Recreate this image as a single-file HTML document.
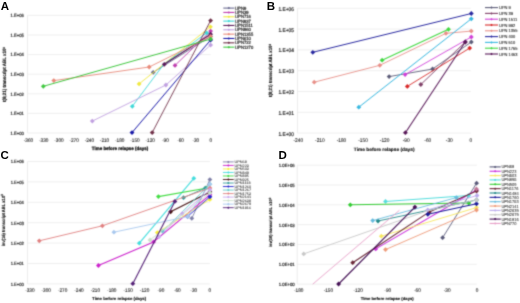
<!DOCTYPE html>
<html><head><meta charset="utf-8"><style>
html,body{margin:0;padding:0;background:#fff;width:520px;height:303px;overflow:hidden}
svg{display:block;will-change:transform}
text{text-rendering:geometricPrecision}
.y{font-family:"Liberation Sans", sans-serif;fill:#222;stroke:#222;stroke-width:0.16px}
.g{font-family:"Liberation Sans", sans-serif;fill:#111;stroke:#111;stroke-width:0.14px}
.h{font-family:"Liberation Sans", sans-serif;fill:#222;stroke:#222;stroke-width:0.03px}
.x{font-family:"Liberation Sans", sans-serif;fill:#222;stroke:#222;stroke-width:0.08px}
.b{font-family:"Liberation Sans", sans-serif;font-weight:bold;fill:#111;stroke:#111;stroke-width:0.12px}
.L{font-family:"Liberation Sans", sans-serif;font-size:11.5px;font-weight:bold;fill:#000}
</style></head><body>
<svg width="520" height="303" viewBox="0 0 520 303">
<defs><filter id="bl" x="0" y="0" width="520" height="303" filterUnits="userSpaceOnUse" primitiveUnits="userSpaceOnUse" color-interpolation-filters="sRGB"><feConvolveMatrix order="3" kernelMatrix="0.02768 0.11101 0.02768 0.11101 0.44521 0.11101 0.02768 0.11101 0.02768" edgeMode="duplicate" preserveAlpha="true"/></filter></defs>
<rect width="520" height="303" fill="#fff"/>
<g filter="url(#bl)">
<rect width="520" height="303" fill="#fff"/>
<line x1="27.5" y1="15.4" x2="210.7" y2="15.4" stroke="#e4e4e4" stroke-width="0.6"/>
<line x1="27.5" y1="35" x2="210.7" y2="35" stroke="#e4e4e4" stroke-width="0.6"/>
<line x1="27.5" y1="54.6" x2="210.7" y2="54.6" stroke="#e4e4e4" stroke-width="0.6"/>
<line x1="27.5" y1="74.2" x2="210.7" y2="74.2" stroke="#e4e4e4" stroke-width="0.6"/>
<line x1="27.5" y1="93.8" x2="210.7" y2="93.8" stroke="#e4e4e4" stroke-width="0.6"/>
<line x1="27.5" y1="113.4" x2="210.7" y2="113.4" stroke="#e4e4e4" stroke-width="0.6"/>
<line x1="27.5" y1="133" x2="210.7" y2="133" stroke="#e4e4e4" stroke-width="0.6"/>
<line x1="27.5" y1="15.4" x2="27.5" y2="133" stroke="#e0e0e0" stroke-width="0.6"/>
<text transform="translate(23.8,17.28) scale(1.0,1.1)" text-anchor="end" class="y" font-size="4.15">1.E+06</text>
<text transform="translate(23.8,36.88) scale(1.0,1.1)" text-anchor="end" class="y" font-size="4.15">1.E+05</text>
<text transform="translate(23.8,56.48) scale(1.0,1.1)" text-anchor="end" class="y" font-size="4.15">1.E+04</text>
<text transform="translate(23.8,76.08) scale(1.0,1.1)" text-anchor="end" class="y" font-size="4.15">1.E+03</text>
<text transform="translate(23.8,95.68) scale(1.0,1.1)" text-anchor="end" class="y" font-size="4.15">1.E+02</text>
<text transform="translate(23.8,115.28) scale(1.0,1.1)" text-anchor="end" class="y" font-size="4.15">1.E+01</text>
<text transform="translate(23.8,134.88) scale(1.0,1.1)" text-anchor="end" class="y" font-size="4.15">1.E+00</text>
<text transform="translate(28.48,141.95) scale(1.0,1.1)" text-anchor="middle" class="x" font-size="4.7">-360</text>
<text transform="translate(43.69,141.95) scale(1.0,1.1)" text-anchor="middle" class="x" font-size="4.7">-330</text>
<text transform="translate(58.9,141.95) scale(1.0,1.1)" text-anchor="middle" class="x" font-size="4.7">-300</text>
<text transform="translate(74.11,141.95) scale(1.0,1.1)" text-anchor="middle" class="x" font-size="4.7">-270</text>
<text transform="translate(89.32,141.95) scale(1.0,1.1)" text-anchor="middle" class="x" font-size="4.7">-240</text>
<text transform="translate(104.53,141.95) scale(1.0,1.1)" text-anchor="middle" class="x" font-size="4.7">-210</text>
<text transform="translate(119.74,141.95) scale(1.0,1.1)" text-anchor="middle" class="x" font-size="4.7">-180</text>
<text transform="translate(134.95,141.95) scale(1.0,1.1)" text-anchor="middle" class="x" font-size="4.7">-150</text>
<text transform="translate(150.16,141.95) scale(1.0,1.1)" text-anchor="middle" class="x" font-size="4.7">-120</text>
<text transform="translate(165.37,141.95) scale(1.0,1.1)" text-anchor="middle" class="x" font-size="4.7">-90</text>
<text transform="translate(180.58,141.95) scale(1.0,1.1)" text-anchor="middle" class="x" font-size="4.7">-60</text>
<text transform="translate(195.79,141.95) scale(1.0,1.1)" text-anchor="middle" class="x" font-size="4.7">-30</text>
<text transform="translate(210.7,141.95) scale(1.0,1.1)" text-anchor="middle" class="x" font-size="4.7">0</text>
<text style="stroke-width:0.24px" transform="translate(120,149.95) scale(1.0,1.05)" text-anchor="middle" class="b" font-size="4.47">Time before relapse (days)</text>
<text transform="translate(6,74.55) rotate(-90) scale(1,1.1)" text-anchor="middle" class="b" font-size="4.42">t(8;21) transcript ABL x10<tspan dy="-1.3" font-size="2.8">3</tspan></text>
<polyline points="153.2,72.3 210.6,36.5" fill="none" stroke="#6a6a90" stroke-width="0.9" stroke-linejoin="round"/>
<rect x="151.5" y="70.6" width="3.4" height="3.4" fill="#6a6a90" transform="rotate(45 153.2 72.3)"/>
<rect x="208.9" y="34.8" width="3.4" height="3.4" fill="#6a6a90" transform="rotate(45 210.6 36.5)"/>
<polyline points="175,65.4 210.6,31.1" fill="none" stroke="#c040b0" stroke-width="0.9" stroke-linejoin="round"/>
<rect x="173.3" y="63.7" width="3.4" height="3.4" fill="#c040b0" transform="rotate(45 175 65.4)"/>
<rect x="208.9" y="29.4" width="3.4" height="3.4" fill="#c040b0" transform="rotate(45 210.6 31.1)"/>
<polyline points="139.1,83.9 210.4,26.8" fill="none" stroke="#f0e840" stroke-width="0.9" stroke-linejoin="round"/>
<rect x="137.4" y="82.2" width="3.4" height="3.4" fill="#f0e840" transform="rotate(45 139.1 83.9)"/>
<rect x="208.7" y="25.1" width="3.4" height="3.4" fill="#f0e840" transform="rotate(45 210.4 26.8)"/>
<polyline points="132.3,106.3 163.5,64.6 206.7,32.9" fill="none" stroke="#40d8d8" stroke-width="0.9" stroke-linejoin="round"/>
<rect x="130.6" y="104.6" width="3.4" height="3.4" fill="#40d8d8" transform="rotate(45 132.3 106.3)"/>
<rect x="205" y="31.2" width="3.4" height="3.4" fill="#40d8d8" transform="rotate(45 206.7 32.9)"/>
<polyline points="164.3,64.3 210.6,34.2" fill="none" stroke="#5a1a5a" stroke-width="1.3" stroke-linejoin="round"/>
<rect x="162.6" y="62.6" width="3.4" height="3.4" fill="#5a1a5a" transform="rotate(45 164.3 64.3)"/>
<rect x="208.9" y="32.5" width="3.4" height="3.4" fill="#5a1a5a" transform="rotate(45 210.6 34.2)"/>
<polyline points="92.3,121.1 165.9,85 210.6,45" fill="none" stroke="#c0a0e0" stroke-width="0.9" stroke-linejoin="round"/>
<rect x="90.6" y="119.4" width="3.4" height="3.4" fill="#c0a0e0" transform="rotate(45 92.3 121.1)"/>
<rect x="164.2" y="83.3" width="3.4" height="3.4" fill="#c0a0e0" transform="rotate(45 165.9 85)"/>
<rect x="208.9" y="43.3" width="3.4" height="3.4" fill="#c0a0e0" transform="rotate(45 210.6 45)"/>
<polyline points="53.8,80.6 149.2,67 210.6,36.4" fill="none" stroke="#e88a7a" stroke-width="0.9" stroke-linejoin="round"/>
<rect x="52.1" y="78.9" width="3.4" height="3.4" fill="#e88a7a" transform="rotate(45 53.8 80.6)"/>
<rect x="147.5" y="65.3" width="3.4" height="3.4" fill="#e88a7a" transform="rotate(45 149.2 67)"/>
<rect x="208.9" y="34.7" width="3.4" height="3.4" fill="#e88a7a" transform="rotate(45 210.6 36.4)"/>
<polyline points="132,132.6 210.6,40" fill="none" stroke="#1818a8" stroke-width="1.0" stroke-linejoin="round"/>
<rect x="130.3" y="130.9" width="3.4" height="3.4" fill="#1818a8" transform="rotate(45 132 132.6)"/>
<rect x="208.9" y="38.3" width="3.4" height="3.4" fill="#1818a8" transform="rotate(45 210.6 40)"/>
<polyline points="152.2,132.6 210.6,20.6" fill="none" stroke="#703048" stroke-width="0.9" stroke-linejoin="round"/>
<rect x="150.5" y="130.9" width="3.4" height="3.4" fill="#703048" transform="rotate(45 152.2 132.6)"/>
<rect x="208.9" y="18.9" width="3.4" height="3.4" fill="#703048" transform="rotate(45 210.6 20.6)"/>
<polyline points="43.3,86.3 210.6,39.1" fill="none" stroke="#40c840" stroke-width="1.0" stroke-linejoin="round"/>
<rect x="41.6" y="84.6" width="3.4" height="3.4" fill="#40c840" transform="rotate(45 43.3 86.3)"/>
<rect x="208.9" y="37.4" width="3.4" height="3.4" fill="#40c840" transform="rotate(45 210.6 39.1)"/>
<line x1="223.3" y1="8.1" x2="234.4" y2="8.1" stroke="#6a6a90" stroke-width="1.1"/>
<rect x="227.95" y="7.2" width="1.8" height="1.8" fill="#6a6a90" transform="rotate(45 228.85 8.1)"/>
<text transform="translate(235.1,9.76) scale(1.0,1.1)" class="g" font-size="4.2">UPN9</text>
<line x1="223.3" y1="12.44" x2="234.4" y2="12.44" stroke="#c040b0" stroke-width="1.1"/>
<rect x="227.95" y="11.54" width="1.8" height="1.8" fill="#c040b0" transform="rotate(45 228.85 12.44)"/>
<text transform="translate(235.1,14.1) scale(1.0,1.1)" class="g" font-size="4.2">UPN39</text>
<line x1="223.3" y1="16.78" x2="234.4" y2="16.78" stroke="#f0e840" stroke-width="1.1"/>
<rect x="227.95" y="15.88" width="1.8" height="1.8" fill="#f0e840" transform="rotate(45 228.85 16.78)"/>
<text transform="translate(235.1,18.44) scale(1.0,1.1)" class="g" font-size="4.2">UPN716</text>
<line x1="223.3" y1="21.12" x2="234.4" y2="21.12" stroke="#40d8d8" stroke-width="1.1"/>
<rect x="227.95" y="20.22" width="1.8" height="1.8" fill="#40d8d8" transform="rotate(45 228.85 21.12)"/>
<text transform="translate(235.1,22.78) scale(1.0,1.1)" class="g" font-size="4.2">UPN937</text>
<line x1="223.3" y1="25.46" x2="234.4" y2="25.46" stroke="#5a1a5a" stroke-width="1.1"/>
<rect x="227.95" y="24.56" width="1.8" height="1.8" fill="#5a1a5a" transform="rotate(45 228.85 25.46)"/>
<text transform="translate(235.1,27.12) scale(1.0,1.1)" class="g" font-size="4.2">UPN1511</text>
<line x1="223.3" y1="29.8" x2="234.4" y2="29.8" stroke="#c0a0e0" stroke-width="1.1"/>
<rect x="227.95" y="28.9" width="1.8" height="1.8" fill="#c0a0e0" transform="rotate(45 228.85 29.8)"/>
<text transform="translate(235.1,31.46) scale(1.0,1.1)" class="g" font-size="4.2">UPN960</text>
<line x1="223.3" y1="34.14" x2="234.4" y2="34.14" stroke="#e88a7a" stroke-width="1.1"/>
<rect x="227.95" y="33.24" width="1.8" height="1.8" fill="#e88a7a" transform="rotate(45 228.85 34.14)"/>
<text transform="translate(235.1,35.8) scale(1.0,1.1)" class="g" font-size="4.2">UPN1355</text>
<line x1="223.3" y1="38.48" x2="234.4" y2="38.48" stroke="#1818a8" stroke-width="1.1"/>
<rect x="227.95" y="37.58" width="1.8" height="1.8" fill="#1818a8" transform="rotate(45 228.85 38.48)"/>
<text transform="translate(235.1,40.14) scale(1.0,1.1)" class="g" font-size="4.2">UPN610</text>
<line x1="223.3" y1="42.82" x2="234.4" y2="42.82" stroke="#703048" stroke-width="1.1"/>
<rect x="227.95" y="41.92" width="1.8" height="1.8" fill="#703048" transform="rotate(45 228.85 42.82)"/>
<text transform="translate(235.1,44.48) scale(1.0,1.1)" class="g" font-size="4.2">UPN722</text>
<line x1="223.3" y1="47.16" x2="234.4" y2="47.16" stroke="#40c840" stroke-width="1.1"/>
<rect x="227.95" y="46.26" width="1.8" height="1.8" fill="#40c840" transform="rotate(45 228.85 47.16)"/>
<text transform="translate(235.1,48.82) scale(1.0,1.1)" class="g" font-size="4.2">UPN1270</text>
<line x1="297.5" y1="8.3" x2="470.8" y2="8.3" stroke="#e4e4e4" stroke-width="0.6"/>
<line x1="297.5" y1="29.1" x2="470.8" y2="29.1" stroke="#e4e4e4" stroke-width="0.6"/>
<line x1="297.5" y1="49.9" x2="470.8" y2="49.9" stroke="#e4e4e4" stroke-width="0.6"/>
<line x1="297.5" y1="70.7" x2="470.8" y2="70.7" stroke="#e4e4e4" stroke-width="0.6"/>
<line x1="297.5" y1="91.5" x2="470.8" y2="91.5" stroke="#e4e4e4" stroke-width="0.6"/>
<line x1="297.5" y1="112.3" x2="470.8" y2="112.3" stroke="#e4e4e4" stroke-width="0.6"/>
<line x1="297.5" y1="133.1" x2="470.8" y2="133.1" stroke="#e4e4e4" stroke-width="0.6"/>
<line x1="297.5" y1="8.3" x2="297.5" y2="133.1" stroke="#e0e0e0" stroke-width="0.6"/>
<text transform="translate(293.9,10.81) scale(1.0,1.1)" text-anchor="end" class="y" font-size="4.85">1.E+06</text>
<text transform="translate(293.9,31.61) scale(1.0,1.1)" text-anchor="end" class="y" font-size="4.85">1.E+05</text>
<text transform="translate(293.9,52.41) scale(1.0,1.1)" text-anchor="end" class="y" font-size="4.85">1.E+04</text>
<text transform="translate(293.9,73.21) scale(1.0,1.1)" text-anchor="end" class="y" font-size="4.85">1.E+03</text>
<text transform="translate(293.9,94.01) scale(1.0,1.1)" text-anchor="end" class="y" font-size="4.85">1.E+02</text>
<text transform="translate(293.9,114.81) scale(1.0,1.1)" text-anchor="end" class="y" font-size="4.85">1.E+01</text>
<text transform="translate(293.9,135.61) scale(1.0,1.1)" text-anchor="end" class="y" font-size="4.85">1.E+00</text>
<text transform="translate(298.29,141.85) scale(1.0,1.1)" text-anchor="middle" class="x" font-size="4.8">-240</text>
<text transform="translate(319.87,141.85) scale(1.0,1.1)" text-anchor="middle" class="x" font-size="4.8">-210</text>
<text transform="translate(341.44,141.85) scale(1.0,1.1)" text-anchor="middle" class="x" font-size="4.8">-180</text>
<text transform="translate(363.02,141.85) scale(1.0,1.1)" text-anchor="middle" class="x" font-size="4.8">-150</text>
<text transform="translate(384.6,141.85) scale(1.0,1.1)" text-anchor="middle" class="x" font-size="4.8">-120</text>
<text transform="translate(406.17,141.85) scale(1.0,1.1)" text-anchor="middle" class="x" font-size="4.8">-90</text>
<text transform="translate(427.75,141.85) scale(1.0,1.1)" text-anchor="middle" class="x" font-size="4.8">-60</text>
<text transform="translate(449.32,141.85) scale(1.0,1.1)" text-anchor="middle" class="x" font-size="4.8">-30</text>
<text transform="translate(470.8,141.85) scale(1.0,1.1)" text-anchor="middle" class="x" font-size="4.8">0</text>
<text style="stroke-width:0.12px" transform="translate(384.2,151.15) scale(1.0,1.0)" text-anchor="middle" class="b" font-size="4.8">Time before relapse (days)</text>
<text transform="translate(272,70.5) rotate(-90) scale(1,1.1)" text-anchor="middle" class="b" font-size="4.25">t(8;21) transcript ABL x10<tspan dy="-1.3" font-size="2.8">3</tspan></text>
<polyline points="389.1,76.6 432.6,69 471.3,42" fill="none" stroke="#5c5c78" stroke-width="0.9" stroke-linejoin="round"/>
<rect x="387.4" y="74.9" width="3.4" height="3.4" fill="#5c5c78" transform="rotate(45 389.1 76.6)"/>
<rect x="430.9" y="67.3" width="3.4" height="3.4" fill="#5c5c78" transform="rotate(45 432.6 69)"/>
<rect x="469.6" y="40.3" width="3.4" height="3.4" fill="#5c5c78" transform="rotate(45 471.3 42)"/>
<polyline points="420.8,84.5 465.3,42" fill="none" stroke="#804068" stroke-width="0.9" stroke-linejoin="round"/>
<rect x="419.1" y="82.8" width="3.4" height="3.4" fill="#804068" transform="rotate(45 420.8 84.5)"/>
<rect x="463.6" y="40.3" width="3.4" height="3.4" fill="#804068" transform="rotate(45 465.3 42)"/>
<polyline points="405.1,74.6 471.3,37" fill="none" stroke="#d040d8" stroke-width="0.9" stroke-linejoin="round"/>
<rect x="403.4" y="72.9" width="3.4" height="3.4" fill="#d040d8" transform="rotate(45 405.1 74.6)"/>
<rect x="469.6" y="35.3" width="3.4" height="3.4" fill="#d040d8" transform="rotate(45 471.3 37)"/>
<polyline points="407.3,86.4 469.7,48.1" fill="none" stroke="#d82828" stroke-width="0.9" stroke-linejoin="round"/>
<rect x="405.6" y="84.7" width="3.4" height="3.4" fill="#d82828" transform="rotate(45 407.3 86.4)"/>
<rect x="468" y="46.4" width="3.4" height="3.4" fill="#d82828" transform="rotate(45 469.7 48.1)"/>
<polyline points="314.2,82.2 379.8,65.3 446,33.3 471.3,31.1" fill="none" stroke="#e89088" stroke-width="0.9" stroke-linejoin="round"/>
<rect x="312.5" y="80.5" width="3.4" height="3.4" fill="#e89088" transform="rotate(45 314.2 82.2)"/>
<rect x="378.1" y="63.6" width="3.4" height="3.4" fill="#e89088" transform="rotate(45 379.8 65.3)"/>
<rect x="444.3" y="31.6" width="3.4" height="3.4" fill="#e89088" transform="rotate(45 446 33.3)"/>
<rect x="469.6" y="29.4" width="3.4" height="3.4" fill="#e89088" transform="rotate(45 471.3 31.1)"/>
<polyline points="312.8,52.3 471.3,13.5" fill="none" stroke="#2828a0" stroke-width="1.0" stroke-linejoin="round"/>
<rect x="311.1" y="50.6" width="3.4" height="3.4" fill="#2828a0" transform="rotate(45 312.8 52.3)"/>
<rect x="469.6" y="11.8" width="3.4" height="3.4" fill="#2828a0" transform="rotate(45 471.3 13.5)"/>
<polyline points="358.8,107.2 471.3,18.8" fill="none" stroke="#38b8e0" stroke-width="1.0" stroke-linejoin="round"/>
<rect x="357.1" y="105.5" width="3.4" height="3.4" fill="#38b8e0" transform="rotate(45 358.8 107.2)"/>
<rect x="469.6" y="17.1" width="3.4" height="3.4" fill="#38b8e0" transform="rotate(45 471.3 18.8)"/>
<polyline points="382.1,60.2 448.5,29.3" fill="none" stroke="#40d840" stroke-width="1.05" stroke-linejoin="round"/>
<rect x="380.4" y="58.5" width="3.4" height="3.4" fill="#40d840" transform="rotate(45 382.1 60.2)"/>
<rect x="446.8" y="27.6" width="3.4" height="3.4" fill="#40d840" transform="rotate(45 448.5 29.3)"/>
<polyline points="405.4,132.7 465.3,42" fill="none" stroke="#581858" stroke-width="1.05" stroke-linejoin="round"/>
<rect x="403.7" y="131" width="3.4" height="3.4" fill="#581858" transform="rotate(45 405.4 132.7)"/>
<rect x="463.6" y="40.3" width="3.4" height="3.4" fill="#581858" transform="rotate(45 465.3 42)"/>
<line x1="485" y1="7.6" x2="498" y2="7.6" stroke="#5c5c78" stroke-width="1.1"/>
<rect x="490.6" y="6.7" width="1.8" height="1.8" fill="#5c5c78" transform="rotate(45 491.5 7.6)"/>
<text transform="translate(499,9.18) scale(1.0,1.1)" class="x" font-size="4.0">UPN 9</text>
<line x1="485" y1="13.4" x2="498" y2="13.4" stroke="#804068" stroke-width="1.1"/>
<rect x="490.6" y="12.5" width="1.8" height="1.8" fill="#804068" transform="rotate(45 491.5 13.4)"/>
<text transform="translate(499,14.98) scale(1.0,1.1)" class="x" font-size="4.0">UPN 39</text>
<line x1="485" y1="19.2" x2="498" y2="19.2" stroke="#d040d8" stroke-width="1.1"/>
<rect x="490.6" y="18.3" width="1.8" height="1.8" fill="#d040d8" transform="rotate(45 491.5 19.2)"/>
<text transform="translate(499,20.78) scale(1.0,1.1)" class="x" font-size="4.0">UPN 1511</text>
<line x1="485" y1="25" x2="498" y2="25" stroke="#d82828" stroke-width="1.1"/>
<rect x="490.6" y="24.1" width="1.8" height="1.8" fill="#d82828" transform="rotate(45 491.5 25)"/>
<text transform="translate(499,26.58) scale(1.0,1.1)" class="x" font-size="4.0">UPN 992</text>
<line x1="485" y1="30.8" x2="498" y2="30.8" stroke="#e89088" stroke-width="1.1"/>
<rect x="490.6" y="29.9" width="1.8" height="1.8" fill="#e89088" transform="rotate(45 491.5 30.8)"/>
<text transform="translate(499,32.38) scale(1.0,1.1)" class="x" font-size="4.0">UPN 1355</text>
<line x1="485" y1="36.6" x2="498" y2="36.6" stroke="#2828a0" stroke-width="1.1"/>
<rect x="490.6" y="35.7" width="1.8" height="1.8" fill="#2828a0" transform="rotate(45 491.5 36.6)"/>
<text transform="translate(499,38.18) scale(1.0,1.1)" class="x" font-size="4.0">UPN 400</text>
<line x1="485" y1="42.4" x2="498" y2="42.4" stroke="#38b8e0" stroke-width="1.1"/>
<rect x="490.6" y="41.5" width="1.8" height="1.8" fill="#38b8e0" transform="rotate(45 491.5 42.4)"/>
<text transform="translate(499,43.98) scale(1.0,1.1)" class="x" font-size="4.0">UPN 610</text>
<line x1="485" y1="48.2" x2="498" y2="48.2" stroke="#40d840" stroke-width="1.1"/>
<rect x="490.6" y="47.3" width="1.8" height="1.8" fill="#40d840" transform="rotate(45 491.5 48.2)"/>
<text transform="translate(499,49.78) scale(1.0,1.1)" class="x" font-size="4.0">UPN 1765</text>
<line x1="485" y1="54" x2="498" y2="54" stroke="#581858" stroke-width="1.1"/>
<rect x="490.6" y="53.1" width="1.8" height="1.8" fill="#581858" transform="rotate(45 491.5 54)"/>
<text transform="translate(499,55.58) scale(1.0,1.1)" class="x" font-size="4.0">UPN 1463</text>
<line x1="27.5" y1="161.5" x2="209.8" y2="161.5" stroke="#e4e4e4" stroke-width="0.6"/>
<line x1="27.5" y1="181.9" x2="209.8" y2="181.9" stroke="#e4e4e4" stroke-width="0.6"/>
<line x1="27.5" y1="202.3" x2="209.8" y2="202.3" stroke="#e4e4e4" stroke-width="0.6"/>
<line x1="27.5" y1="222.7" x2="209.8" y2="222.7" stroke="#e4e4e4" stroke-width="0.6"/>
<line x1="27.5" y1="243.1" x2="209.8" y2="243.1" stroke="#e4e4e4" stroke-width="0.6"/>
<line x1="27.5" y1="263.5" x2="209.8" y2="263.5" stroke="#e4e4e4" stroke-width="0.6"/>
<line x1="27.5" y1="283.9" x2="209.8" y2="283.9" stroke="#e4e4e4" stroke-width="0.6"/>
<line x1="27.5" y1="161.5" x2="27.5" y2="283.9" stroke="#e0e0e0" stroke-width="0.6"/>
<text transform="translate(23.8,163.36) scale(1.0,1.1)" text-anchor="end" class="y" font-size="4.1">1.E+06</text>
<text transform="translate(23.8,183.76) scale(1.0,1.1)" text-anchor="end" class="y" font-size="4.1">1.E+05</text>
<text transform="translate(23.8,204.16) scale(1.0,1.1)" text-anchor="end" class="y" font-size="4.1">1.E+04</text>
<text transform="translate(23.8,224.56) scale(1.0,1.1)" text-anchor="end" class="y" font-size="4.1">1.E+03</text>
<text transform="translate(23.8,244.96) scale(1.0,1.1)" text-anchor="end" class="y" font-size="4.1">1.E+02</text>
<text transform="translate(23.8,265.36) scale(1.0,1.1)" text-anchor="end" class="y" font-size="4.1">1.E+01</text>
<text transform="translate(23.8,285.76) scale(1.0,1.1)" text-anchor="end" class="y" font-size="4.1">1.E+00</text>
<text transform="translate(29.82,292.35) scale(1.0,1.1)" text-anchor="middle" class="x" font-size="4.7">-330</text>
<text transform="translate(46.21,292.35) scale(1.0,1.1)" text-anchor="middle" class="x" font-size="4.7">-300</text>
<text transform="translate(62.6,292.35) scale(1.0,1.1)" text-anchor="middle" class="x" font-size="4.7">-270</text>
<text transform="translate(78.99,292.35) scale(1.0,1.1)" text-anchor="middle" class="x" font-size="4.7">-240</text>
<text transform="translate(95.38,292.35) scale(1.0,1.1)" text-anchor="middle" class="x" font-size="4.7">-210</text>
<text transform="translate(111.77,292.35) scale(1.0,1.1)" text-anchor="middle" class="x" font-size="4.7">-180</text>
<text transform="translate(128.15,292.35) scale(1.0,1.1)" text-anchor="middle" class="x" font-size="4.7">-150</text>
<text transform="translate(144.54,292.35) scale(1.0,1.1)" text-anchor="middle" class="x" font-size="4.7">-120</text>
<text transform="translate(160.93,292.35) scale(1.0,1.1)" text-anchor="middle" class="x" font-size="4.7">-90</text>
<text transform="translate(177.32,292.35) scale(1.0,1.1)" text-anchor="middle" class="x" font-size="4.7">-60</text>
<text transform="translate(193.71,292.35) scale(1.0,1.1)" text-anchor="middle" class="x" font-size="4.7">-30</text>
<text transform="translate(209.7,292.35) scale(1.0,1.1)" text-anchor="middle" class="x" font-size="4.7">0</text>
<text style="stroke-width:0.12px" transform="translate(119.1,300.35) scale(1.0,1.0)" text-anchor="middle" class="b" font-size="4.28">Time before relapse (days)</text>
<text transform="translate(4.9,220.3) rotate(-90) scale(1,1.1)" text-anchor="middle" class="b" font-size="4.1">inv(16) transcript ABL x10<tspan dy="-1.3" font-size="2.8">3</tspan></text>
<polyline points="191.8,218.3 209.9,179.6" fill="none" stroke="#8080a8" stroke-width="0.9" stroke-linejoin="round"/>
<rect x="190.1" y="216.6" width="3.4" height="3.4" fill="#8080a8" transform="rotate(45 191.8 218.3)"/>
<rect x="208.2" y="177.9" width="3.4" height="3.4" fill="#8080a8" transform="rotate(45 209.9 179.6)"/>
<polyline points="98.4,265.5 153.6,241.9 209.9,194.8" fill="none" stroke="#cc22cc" stroke-width="1.1" stroke-linejoin="round"/>
<rect x="96.7" y="263.8" width="3.4" height="3.4" fill="#cc22cc" transform="rotate(45 98.4 265.5)"/>
<rect x="151.9" y="240.2" width="3.4" height="3.4" fill="#cc22cc" transform="rotate(45 153.6 241.9)"/>
<rect x="208.2" y="193.1" width="3.4" height="3.4" fill="#cc22cc" transform="rotate(45 209.9 194.8)"/>
<polyline points="157.3,232.6 209.9,199.4" fill="none" stroke="#f8f040" stroke-width="0.9" stroke-linejoin="round"/>
<rect x="155.6" y="230.9" width="3.4" height="3.4" fill="#f8f040" transform="rotate(45 157.3 232.6)"/>
<rect x="208.2" y="197.7" width="3.4" height="3.4" fill="#f8f040" transform="rotate(45 209.9 199.4)"/>
<polyline points="139.3,243.2 193.8,178.3" fill="none" stroke="#44dddd" stroke-width="1.1" stroke-linejoin="round"/>
<rect x="137.6" y="241.5" width="3.4" height="3.4" fill="#44dddd" transform="rotate(45 139.3 243.2)"/>
<rect x="192.1" y="176.6" width="3.4" height="3.4" fill="#44dddd" transform="rotate(45 193.8 178.3)"/>
<polyline points="158.4,196.6 205.9,188.2" fill="none" stroke="#44dd44" stroke-width="1.1" stroke-linejoin="round"/>
<rect x="156.7" y="194.9" width="3.4" height="3.4" fill="#44dd44" transform="rotate(45 158.4 196.6)"/>
<rect x="204.2" y="186.5" width="3.4" height="3.4" fill="#44dd44" transform="rotate(45 205.9 188.2)"/>
<polyline points="170.6,211.8 209.9,191.9" fill="none" stroke="#441111" stroke-width="1.1" stroke-linejoin="round"/>
<rect x="168.9" y="210.1" width="3.4" height="3.4" fill="#441111" transform="rotate(45 170.6 211.8)"/>
<rect x="208.2" y="190.2" width="3.4" height="3.4" fill="#441111" transform="rotate(45 209.9 191.9)"/>
<polyline points="183.5,197.7 205.2,188.2" fill="none" stroke="#339999" stroke-width="0.9" stroke-linejoin="round"/>
<rect x="181.8" y="196" width="3.4" height="3.4" fill="#339999" transform="rotate(45 183.5 197.7)"/>
<rect x="203.5" y="186.5" width="3.4" height="3.4" fill="#339999" transform="rotate(45 205.2 188.2)"/>
<polyline points="187.6,216.5 209.9,196.8" fill="none" stroke="#2222cc" stroke-width="0.9" stroke-linejoin="round"/>
<rect x="185.9" y="214.8" width="3.4" height="3.4" fill="#2222cc" transform="rotate(45 187.6 216.5)"/>
<rect x="208.2" y="195.1" width="3.4" height="3.4" fill="#2222cc" transform="rotate(45 209.9 196.8)"/>
<polyline points="162.8,231.4 209.9,184.2" fill="none" stroke="#66cccc" stroke-width="0.9" stroke-linejoin="round"/>
<rect x="161.1" y="229.7" width="3.4" height="3.4" fill="#66cccc" transform="rotate(45 162.8 231.4)"/>
<rect x="208.2" y="182.5" width="3.4" height="3.4" fill="#66cccc" transform="rotate(45 209.9 184.2)"/>
<polyline points="39.3,240.8 102.4,225.8 209.9,188" fill="none" stroke="#e08080" stroke-width="0.9" stroke-linejoin="round"/>
<rect x="37.6" y="239.1" width="3.4" height="3.4" fill="#e08080" transform="rotate(45 39.3 240.8)"/>
<rect x="100.7" y="224.1" width="3.4" height="3.4" fill="#e08080" transform="rotate(45 102.4 225.8)"/>
<rect x="208.2" y="186.3" width="3.4" height="3.4" fill="#e08080" transform="rotate(45 209.9 188)"/>
<polyline points="159,236.8 182.2,213.7 209.9,190" fill="none" stroke="#c8a8ee" stroke-width="0.9" stroke-linejoin="round"/>
<rect x="157.3" y="235.1" width="3.4" height="3.4" fill="#c8a8ee" transform="rotate(45 159 236.8)"/>
<rect x="180.5" y="212" width="3.4" height="3.4" fill="#c8a8ee" transform="rotate(45 182.2 213.7)"/>
<rect x="208.2" y="188.3" width="3.4" height="3.4" fill="#c8a8ee" transform="rotate(45 209.9 190)"/>
<polyline points="150,240 209.9,193" fill="none" stroke="#cce0cc" stroke-width="0.9" stroke-linejoin="round"/>
<rect x="148.3" y="238.3" width="3.4" height="3.4" fill="#cce0cc" transform="rotate(45 150 240)"/>
<rect x="208.2" y="191.3" width="3.4" height="3.4" fill="#cce0cc" transform="rotate(45 209.9 193)"/>
<polyline points="113.9,232.2 187.6,216.5 209.9,184.2" fill="none" stroke="#a8c8ee" stroke-width="0.9" stroke-linejoin="round"/>
<rect x="112.2" y="230.5" width="3.4" height="3.4" fill="#a8c8ee" transform="rotate(45 113.9 232.2)"/>
<rect x="185.9" y="214.8" width="3.4" height="3.4" fill="#a8c8ee" transform="rotate(45 187.6 216.5)"/>
<rect x="208.2" y="182.5" width="3.4" height="3.4" fill="#a8c8ee" transform="rotate(45 209.9 184.2)"/>
<polyline points="132.8,283.7 174.9,201.4" fill="none" stroke="#552277" stroke-width="1.1" stroke-linejoin="round"/>
<rect x="131.1" y="282" width="3.4" height="3.4" fill="#552277" transform="rotate(45 132.8 283.7)"/>
<rect x="173.2" y="199.7" width="3.4" height="3.4" fill="#552277" transform="rotate(45 174.9 201.4)"/>
<line x1="222.9" y1="161.9" x2="233.7" y2="161.9" stroke="#8080a8" stroke-width="0.9"/>
<rect x="227.4" y="161" width="1.8" height="1.8" fill="#8080a8" transform="rotate(45 228.3 161.9)"/>
<text transform="translate(234.4,163.16) scale(1.1,1.0)" class="h" font-size="3.5">UPN68</text>
<line x1="222.9" y1="165.42" x2="233.7" y2="165.42" stroke="#cc22cc" stroke-width="0.9"/>
<rect x="227.4" y="164.52" width="1.8" height="1.8" fill="#cc22cc" transform="rotate(45 228.3 165.42)"/>
<text transform="translate(234.4,166.68) scale(1.1,1.0)" class="h" font-size="3.5">UPN223</text>
<line x1="222.9" y1="168.94" x2="233.7" y2="168.94" stroke="#f8f040" stroke-width="0.9"/>
<rect x="227.4" y="168.04" width="1.8" height="1.8" fill="#f8f040" transform="rotate(45 228.3 168.94)"/>
<text transform="translate(234.4,170.2) scale(1.1,1.0)" class="h" font-size="3.5">UPN503</text>
<line x1="222.9" y1="172.46" x2="233.7" y2="172.46" stroke="#44dddd" stroke-width="0.9"/>
<rect x="227.4" y="171.56" width="1.8" height="1.8" fill="#44dddd" transform="rotate(45 228.3 172.46)"/>
<text transform="translate(234.4,173.72) scale(1.1,1.0)" class="h" font-size="3.5">UPN849</text>
<line x1="222.9" y1="175.98" x2="233.7" y2="175.98" stroke="#44dd44" stroke-width="0.9"/>
<rect x="227.4" y="175.08" width="1.8" height="1.8" fill="#44dd44" transform="rotate(45 228.3 175.98)"/>
<text transform="translate(234.4,177.24) scale(1.1,1.0)" class="h" font-size="3.5">UPN895</text>
<line x1="222.9" y1="179.5" x2="233.7" y2="179.5" stroke="#441111" stroke-width="0.9"/>
<rect x="227.4" y="178.6" width="1.8" height="1.8" fill="#441111" transform="rotate(45 228.3 179.5)"/>
<text transform="translate(234.4,180.76) scale(1.1,1.0)" class="h" font-size="3.5">UPN925</text>
<line x1="222.9" y1="183.02" x2="233.7" y2="183.02" stroke="#339999" stroke-width="0.9"/>
<rect x="227.4" y="182.12" width="1.8" height="1.8" fill="#339999" transform="rotate(45 228.3 183.02)"/>
<text transform="translate(234.4,184.28) scale(1.1,1.0)" class="h" font-size="3.5">UPN1118</text>
<line x1="222.9" y1="186.54" x2="233.7" y2="186.54" stroke="#2222cc" stroke-width="0.9"/>
<rect x="227.4" y="185.64" width="1.8" height="1.8" fill="#2222cc" transform="rotate(45 228.3 186.54)"/>
<text transform="translate(234.4,187.8) scale(1.1,1.0)" class="h" font-size="3.5">UPN1260</text>
<line x1="222.9" y1="190.06" x2="233.7" y2="190.06" stroke="#66cccc" stroke-width="0.9"/>
<rect x="227.4" y="189.16" width="1.8" height="1.8" fill="#66cccc" transform="rotate(45 228.3 190.06)"/>
<text transform="translate(234.4,191.32) scale(1.1,1.0)" class="h" font-size="3.5">UPN1267</text>
<line x1="222.9" y1="193.58" x2="233.7" y2="193.58" stroke="#e08080" stroke-width="0.9"/>
<rect x="227.4" y="192.68" width="1.8" height="1.8" fill="#e08080" transform="rotate(45 228.3 193.58)"/>
<text transform="translate(234.4,194.84) scale(1.1,1.0)" class="h" font-size="3.5">UPN1753</text>
<line x1="222.9" y1="197.1" x2="233.7" y2="197.1" stroke="#c8a8ee" stroke-width="0.9"/>
<rect x="227.4" y="196.2" width="1.8" height="1.8" fill="#c8a8ee" transform="rotate(45 228.3 197.1)"/>
<text transform="translate(234.4,198.36) scale(1.1,1.0)" class="h" font-size="3.5">UPN2141</text>
<line x1="222.9" y1="200.62" x2="233.7" y2="200.62" stroke="#cce0cc" stroke-width="0.9"/>
<rect x="227.4" y="199.72" width="1.8" height="1.8" fill="#cce0cc" transform="rotate(45 228.3 200.62)"/>
<text transform="translate(234.4,201.88) scale(1.1,1.0)" class="h" font-size="3.5">UPN2638</text>
<line x1="222.9" y1="204.14" x2="233.7" y2="204.14" stroke="#a8c8ee" stroke-width="0.9"/>
<rect x="227.4" y="203.24" width="1.8" height="1.8" fill="#a8c8ee" transform="rotate(45 228.3 204.14)"/>
<text transform="translate(234.4,205.4) scale(1.1,1.0)" class="h" font-size="3.5">UPN2679</text>
<line x1="222.9" y1="207.66" x2="233.7" y2="207.66" stroke="#552277" stroke-width="0.9"/>
<rect x="227.4" y="206.76" width="1.8" height="1.8" fill="#552277" transform="rotate(45 228.3 207.66)"/>
<text transform="translate(234.4,208.92) scale(1.1,1.0)" class="h" font-size="3.5">UPN1816</text>
<line x1="297.2" y1="165.2" x2="476.8" y2="165.2" stroke="#e4e4e4" stroke-width="0.6"/>
<line x1="297.2" y1="185.02" x2="476.8" y2="185.02" stroke="#e4e4e4" stroke-width="0.6"/>
<line x1="297.2" y1="204.84" x2="476.8" y2="204.84" stroke="#e4e4e4" stroke-width="0.6"/>
<line x1="297.2" y1="224.66" x2="476.8" y2="224.66" stroke="#e4e4e4" stroke-width="0.6"/>
<line x1="297.2" y1="244.48" x2="476.8" y2="244.48" stroke="#e4e4e4" stroke-width="0.6"/>
<line x1="297.2" y1="264.3" x2="476.8" y2="264.3" stroke="#e4e4e4" stroke-width="0.6"/>
<line x1="297.2" y1="284.12" x2="476.8" y2="284.12" stroke="#e4e4e4" stroke-width="0.6"/>
<line x1="297.2" y1="165.2" x2="297.2" y2="284.12" stroke="#e0e0e0" stroke-width="0.6"/>
<text transform="translate(294.7,167.18) scale(1.0,1.1)" text-anchor="end" class="y" font-size="4.26">1.0E+06</text>
<text transform="translate(294.7,187) scale(1.0,1.1)" text-anchor="end" class="y" font-size="4.26">1.0E+05</text>
<text transform="translate(294.7,206.82) scale(1.0,1.1)" text-anchor="end" class="y" font-size="4.26">1.0E+04</text>
<text transform="translate(294.7,226.64) scale(1.0,1.1)" text-anchor="end" class="y" font-size="4.26">1.0E+03</text>
<text transform="translate(294.7,246.46) scale(1.0,1.1)" text-anchor="end" class="y" font-size="4.26">1.0E+02</text>
<text transform="translate(294.7,266.28) scale(1.0,1.1)" text-anchor="end" class="y" font-size="4.26">1.0E+01</text>
<text transform="translate(294.7,286.1) scale(1.0,1.1)" text-anchor="end" class="y" font-size="4.26">1.0E+00</text>
<text transform="translate(298.71,292.1) scale(1.0,1.1)" text-anchor="middle" class="x" font-size="4.7">-180</text>
<text transform="translate(328.39,292.1) scale(1.0,1.1)" text-anchor="middle" class="x" font-size="4.7">-150</text>
<text transform="translate(358.07,292.1) scale(1.0,1.1)" text-anchor="middle" class="x" font-size="4.7">-120</text>
<text transform="translate(387.75,292.1) scale(1.0,1.1)" text-anchor="middle" class="x" font-size="4.7">-90</text>
<text transform="translate(417.44,292.1) scale(1.0,1.1)" text-anchor="middle" class="x" font-size="4.7">-60</text>
<text transform="translate(447.12,292.1) scale(1.0,1.1)" text-anchor="middle" class="x" font-size="4.7">-30</text>
<text transform="translate(477.1,292.1) scale(1.0,1.1)" text-anchor="middle" class="x" font-size="4.7">0</text>
<text style="stroke-width:0.12px" transform="translate(387.2,299.91) scale(1.0,1.0)" text-anchor="middle" class="b" font-size="4.2">Time before relapse (days)</text>
<text transform="translate(272.2,222.4) rotate(-90) scale(1,1.1)" text-anchor="middle" class="b" font-size="3.86">inv(16) transcript ABL x10<tspan dy="-1.3" font-size="2.8">3</tspan></text>
<polyline points="442.6,237.7 476.6,183.2" fill="none" stroke="#5a5a7a" stroke-width="0.9" stroke-linejoin="round"/>
<rect x="440.9" y="236" width="3.4" height="3.4" fill="#5a5a7a" transform="rotate(45 442.6 237.7)"/>
<rect x="474.9" y="181.5" width="3.4" height="3.4" fill="#5a5a7a" transform="rotate(45 476.6 183.2)"/>
<polyline points="375.7,248.9 476.5,190" fill="none" stroke="#cc33dd" stroke-width="1.1" stroke-linejoin="round"/>
<rect x="374" y="247.2" width="3.4" height="3.4" fill="#cc33dd" transform="rotate(45 375.7 248.9)"/>
<rect x="474.8" y="188.3" width="3.4" height="3.4" fill="#cc33dd" transform="rotate(45 476.5 190)"/>
<polyline points="381.3,236.2 476.5,207.6" fill="none" stroke="#f8e860" stroke-width="0.9" stroke-linejoin="round"/>
<rect x="379.6" y="234.5" width="3.4" height="3.4" fill="#f8e860" transform="rotate(45 381.3 236.2)"/>
<rect x="474.8" y="205.9" width="3.4" height="3.4" fill="#f8e860" transform="rotate(45 476.5 207.6)"/>
<polyline points="385.5,201.4 468.6,195.6" fill="none" stroke="#55dddd" stroke-width="1.05" stroke-linejoin="round"/>
<rect x="383.8" y="199.7" width="3.4" height="3.4" fill="#55dddd" transform="rotate(45 385.5 201.4)"/>
<rect x="466.9" y="193.9" width="3.4" height="3.4" fill="#55dddd" transform="rotate(45 468.6 195.6)"/>
<polyline points="350.3,204.8 468.8,203" fill="none" stroke="#33cc33" stroke-width="1.1" stroke-linejoin="round"/>
<rect x="348.6" y="203.1" width="3.4" height="3.4" fill="#33cc33" transform="rotate(45 350.3 204.8)"/>
<rect x="467.1" y="201.3" width="3.4" height="3.4" fill="#33cc33" transform="rotate(45 468.8 203)"/>
<polyline points="352.7,262.7 429.3,211.9 476.5,191" fill="none" stroke="#6a2838" stroke-width="1.05" stroke-linejoin="round"/>
<rect x="351" y="261" width="3.4" height="3.4" fill="#6a2838" transform="rotate(45 352.7 262.7)"/>
<rect x="427.6" y="210.2" width="3.4" height="3.4" fill="#6a2838" transform="rotate(45 429.3 211.9)"/>
<rect x="474.8" y="189.3" width="3.4" height="3.4" fill="#6a2838" transform="rotate(45 476.5 191)"/>
<polyline points="378,221 476.5,200" fill="none" stroke="#228888" stroke-width="0.9" stroke-linejoin="round"/>
<rect x="376.3" y="219.3" width="3.4" height="3.4" fill="#228888" transform="rotate(45 378 221)"/>
<rect x="474.8" y="198.3" width="3.4" height="3.4" fill="#228888" transform="rotate(45 476.5 200)"/>
<polyline points="427.8,214.3 476.5,203.8" fill="none" stroke="#1a1a99" stroke-width="1.1" stroke-linejoin="round"/>
<rect x="426.1" y="212.6" width="3.4" height="3.4" fill="#1a1a99" transform="rotate(45 427.8 214.3)"/>
<rect x="474.8" y="202.1" width="3.4" height="3.4" fill="#1a1a99" transform="rotate(45 476.5 203.8)"/>
<polyline points="372.7,220.6 456.4,197.6" fill="none" stroke="#66bbdd" stroke-width="0.9" stroke-linejoin="round"/>
<rect x="371" y="218.9" width="3.4" height="3.4" fill="#66bbdd" transform="rotate(45 372.7 220.6)"/>
<rect x="454.7" y="195.9" width="3.4" height="3.4" fill="#66bbdd" transform="rotate(45 456.4 197.6)"/>
<polyline points="385.5,249.6 476.5,210" fill="none" stroke="#ee9977" stroke-width="0.9" stroke-linejoin="round"/>
<rect x="383.8" y="247.9" width="3.4" height="3.4" fill="#ee9977" transform="rotate(45 385.5 249.6)"/>
<rect x="474.8" y="208.3" width="3.4" height="3.4" fill="#ee9977" transform="rotate(45 476.5 210)"/>
<polyline points="427.8,209.9 477,195.5" fill="none" stroke="#bbaaee" stroke-width="0.9" stroke-linejoin="round"/>
<rect x="426.1" y="208.2" width="3.4" height="3.4" fill="#bbaaee" transform="rotate(45 427.8 209.9)"/>
<rect x="475.3" y="193.8" width="3.4" height="3.4" fill="#bbaaee" transform="rotate(45 477 195.5)"/>
<polyline points="303.7,253.9 427.5,210.8 476.5,200" fill="none" stroke="#c8c8c8" stroke-width="0.9" stroke-linejoin="round"/>
<rect x="302" y="252.2" width="3.4" height="3.4" fill="#c8c8c8" transform="rotate(45 303.7 253.9)"/>
<rect x="474.8" y="198.3" width="3.4" height="3.4" fill="#c8c8c8" transform="rotate(45 476.5 200)"/>
<polyline points="338.6,284 414.9,207.1" fill="none" stroke="#441155" stroke-width="1.1" stroke-linejoin="round"/>
<rect x="336.9" y="282.3" width="3.4" height="3.4" fill="#441155" transform="rotate(45 338.6 284)"/>
<rect x="413.2" y="205.4" width="3.4" height="3.4" fill="#441155" transform="rotate(45 414.9 207.1)"/>
<polyline points="312.7,284.2 399.4,210.3" fill="none" stroke="#e8a0c8" stroke-width="0.9" stroke-linejoin="round"/>
<polyline points="476.4,189" fill="none" stroke="#c07898" stroke-width="0.9" stroke-linejoin="round"/>
<rect x="474.7" y="187.3" width="3.4" height="3.4" fill="#c07898" transform="rotate(45 476.4 189)"/>
<line x1="489.6" y1="166.9" x2="500.7" y2="166.9" stroke="#5a5a7a" stroke-width="1.1"/>
<rect x="494.25" y="166" width="1.8" height="1.8" fill="#5a5a7a" transform="rotate(45 495.15 166.9)"/>
<text transform="translate(501.4,168.41) scale(1.0,1.05)" class="h" font-size="4.0">UPN68</text>
<line x1="489.6" y1="171.25" x2="500.7" y2="171.25" stroke="#cc33dd" stroke-width="1.1"/>
<rect x="494.25" y="170.35" width="1.8" height="1.8" fill="#cc33dd" transform="rotate(45 495.15 171.25)"/>
<text transform="translate(501.4,172.76) scale(1.0,1.05)" class="h" font-size="4.0">UPN223</text>
<line x1="489.6" y1="175.6" x2="500.7" y2="175.6" stroke="#f8e860" stroke-width="1.1"/>
<rect x="494.25" y="174.7" width="1.8" height="1.8" fill="#f8e860" transform="rotate(45 495.15 175.6)"/>
<text transform="translate(501.4,177.11) scale(1.0,1.05)" class="h" font-size="4.0">UPN503</text>
<line x1="489.6" y1="179.95" x2="500.7" y2="179.95" stroke="#55dddd" stroke-width="1.1"/>
<rect x="494.25" y="179.05" width="1.8" height="1.8" fill="#55dddd" transform="rotate(45 495.15 179.95)"/>
<text transform="translate(501.4,181.46) scale(1.0,1.05)" class="h" font-size="4.0">UPN895</text>
<line x1="489.6" y1="184.3" x2="500.7" y2="184.3" stroke="#33cc33" stroke-width="1.1"/>
<rect x="494.25" y="183.4" width="1.8" height="1.8" fill="#33cc33" transform="rotate(45 495.15 184.3)"/>
<text transform="translate(501.4,185.81) scale(1.0,1.05)" class="h" font-size="4.0">UPN909</text>
<line x1="489.6" y1="188.65" x2="500.7" y2="188.65" stroke="#6a2838" stroke-width="1.1"/>
<rect x="494.25" y="187.75" width="1.8" height="1.8" fill="#6a2838" transform="rotate(45 495.15 188.65)"/>
<text transform="translate(501.4,190.16) scale(1.0,1.05)" class="h" font-size="4.0">UPN1176</text>
<line x1="489.6" y1="193" x2="500.7" y2="193" stroke="#228888" stroke-width="1.1"/>
<rect x="494.25" y="192.1" width="1.8" height="1.8" fill="#228888" transform="rotate(45 495.15 193)"/>
<text transform="translate(501.4,194.51) scale(1.0,1.05)" class="h" font-size="4.0">UPN1484</text>
<line x1="489.6" y1="197.35" x2="500.7" y2="197.35" stroke="#1a1a99" stroke-width="1.1"/>
<rect x="494.25" y="196.45" width="1.8" height="1.8" fill="#1a1a99" transform="rotate(45 495.15 197.35)"/>
<text transform="translate(501.4,198.86) scale(1.0,1.05)" class="h" font-size="4.0">UPN1760</text>
<line x1="489.6" y1="201.7" x2="500.7" y2="201.7" stroke="#66bbdd" stroke-width="1.1"/>
<rect x="494.25" y="200.8" width="1.8" height="1.8" fill="#66bbdd" transform="rotate(45 495.15 201.7)"/>
<text transform="translate(501.4,203.21) scale(1.0,1.05)" class="h" font-size="4.0">UPN1753</text>
<line x1="489.6" y1="206.05" x2="500.7" y2="206.05" stroke="#ee9977" stroke-width="1.1"/>
<rect x="494.25" y="205.15" width="1.8" height="1.8" fill="#ee9977" transform="rotate(45 495.15 206.05)"/>
<text transform="translate(501.4,207.56) scale(1.0,1.05)" class="h" font-size="4.0">UPN2141</text>
<line x1="489.6" y1="210.4" x2="500.7" y2="210.4" stroke="#bbaaee" stroke-width="1.1"/>
<rect x="494.25" y="209.5" width="1.8" height="1.8" fill="#bbaaee" transform="rotate(45 495.15 210.4)"/>
<text transform="translate(501.4,211.91) scale(1.0,1.05)" class="h" font-size="4.0">UPN2639</text>
<line x1="489.6" y1="214.75" x2="500.7" y2="214.75" stroke="#c8c8c8" stroke-width="1.1"/>
<rect x="494.25" y="213.85" width="1.8" height="1.8" fill="#c8c8c8" transform="rotate(45 495.15 214.75)"/>
<text transform="translate(501.4,216.26) scale(1.0,1.05)" class="h" font-size="4.0">UPN2679</text>
<line x1="489.6" y1="219.1" x2="500.7" y2="219.1" stroke="#441155" stroke-width="1.1"/>
<rect x="494.25" y="218.2" width="1.8" height="1.8" fill="#441155" transform="rotate(45 495.15 219.1)"/>
<text transform="translate(501.4,220.61) scale(1.0,1.05)" class="h" font-size="4.0">UPN1816</text>
<line x1="489.6" y1="223.45" x2="500.7" y2="223.45" stroke="#e8a0c8" stroke-width="1.1"/>
<rect x="494.25" y="222.55" width="1.8" height="1.8" fill="#e8a0c8" transform="rotate(45 495.15 223.45)"/>
<text transform="translate(501.4,224.96) scale(1.0,1.05)" class="h" font-size="4.0">UPN770</text>
</g>
<text x="0.75" y="10.45" class="L">A</text>
<text x="266.8" y="9.85" class="L">B</text>
<text x="0.4" y="159.4" class="L">C</text>
<text x="278.5" y="159.3" class="L">D</text>
</svg>
</body></html>
